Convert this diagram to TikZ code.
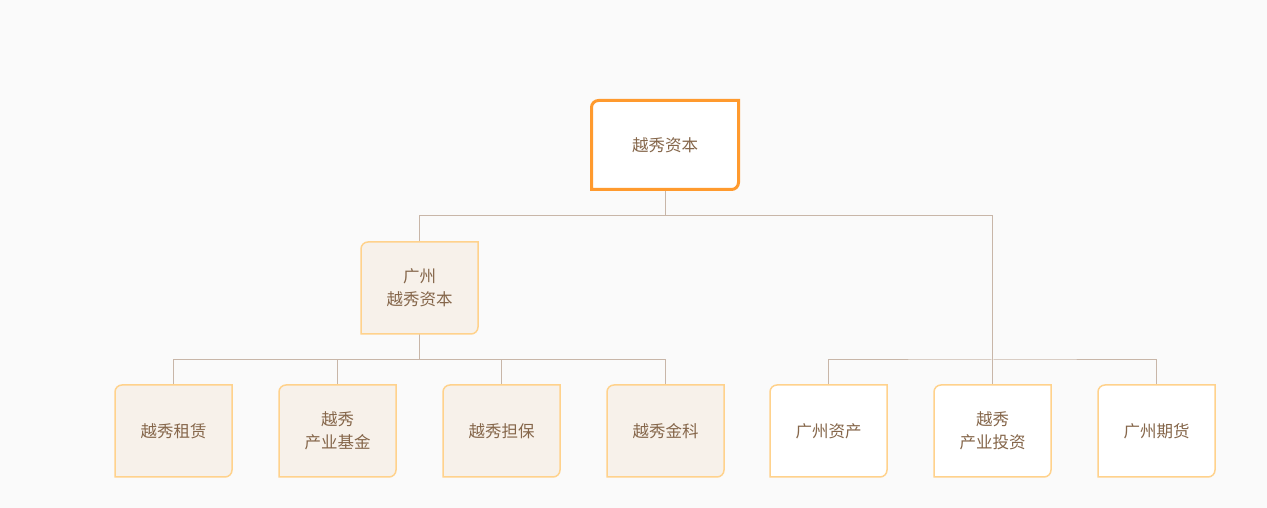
\documentclass[tikz,border=0pt]{standalone}
\usepackage{fontspec}
\newfontfamily\cjk{Noto Sans CJK SC}
\usetikzlibrary{backgrounds}
\definecolor{bgcol}{HTML}{FAFAFA}
\definecolor{txtcol}{HTML}{85664A}
\definecolor{linkcol}{HTML}{C8B6A8}
\definecolor{rootcol}{HTML}{FF9A2E}
\definecolor{edgecol}{HTML}{FFD28C}
\definecolor{paper}{HTML}{F7F1EA}
\newcommand\cutbox[2]{%
  \draw[#2] (#1.south west) -- ([yshift=-7pt]#1.north west)
    arc[start angle=180,end angle=90,radius=7pt] -- (#1.north east)
    -- ([yshift=7pt]#1.south east) arc[start angle=0,end angle=-90,radius=7pt] -- cycle;}

\begin{document}
\begin{tikzpicture}[x=1pt,y=1pt,
    unit/.style={minimum width=117pt,minimum height=92pt,inner sep=0pt,outer sep=0pt,
      align=center,text=txtcol,font=\cjk\fontsize{16.5}{23}\selectfont},
    link/.style={draw=linkcol,line width=1pt},
    rootline/.style={draw=rootcol,fill=white,line width=3pt},
    paperline/.style={draw=edgecol,fill=paper,line width=1.5pt},
    plainline/.style={draw=edgecol,fill=white,line width=1.5pt}]
  \useasboundingbox (0,0) rectangle (1267,508);
  \path (665,363) node[unit,minimum width=147pt,minimum height=89pt] (root) {越秀资本}
    (419.5,220) node[unit] (gzyx) {广州\\越秀资本};
  \path (173.5,77) node[unit] (zl) {越秀租赁}
    (337.5,77) node[unit] (jj) {越秀\\产业基金}
    (501.5,77) node[unit] (db) {越秀担保}
    (665.5,77) node[unit] (jk) {越秀金科}
    (828.5,77) node[unit] (gzzc) {广州资产}
    (992.5,77) node[unit] (tz) {越秀\\产业投资}
    (1156.5,77) node[unit] (qh) {广州期货};
  \coordinate (bus1) at (0,292);
  \coordinate (bus2) at (0,148);
  \begin{scope}[on background layer]
    \fill[bgcol] (0,0) rectangle (1267,508);
    \draw[link] (root.south) -- (root.south |- bus1) -| (gzyx.north);
    \draw[link] (root.south) -- (root.south |- bus1) -| (tz.north);
    \foreach \n in {zl,jj,db,jk}
      \draw[link] (gzyx.south) -- (gzyx.south |- bus2) -| (\n.north);
    \draw[link] (gzzc.north) |- (tz.north |- bus2) -| (qh.north);
    \cutbox{root}{rootline}
    \foreach \n in {gzyx,zl,jj,db,jk}
      {\cutbox{\n}{paperline}}
    \foreach \n in {gzzc,tz,qh}
      {\cutbox{\n}{plainline}}
  \end{scope}
\end{tikzpicture}
\end{document}
